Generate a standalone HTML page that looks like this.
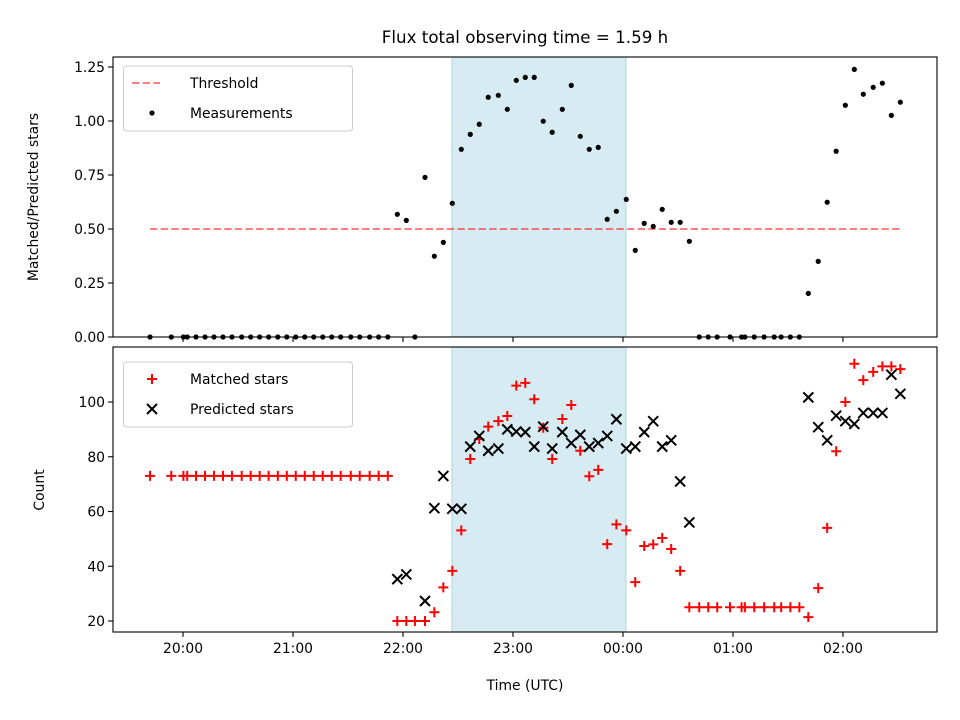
<!DOCTYPE html>
<html><head><meta charset="utf-8"><style>
html,body{margin:0;padding:0;background:#fff;}
svg{display:block;font-family:"DejaVu Sans","Liberation Sans",sans-serif;}
</style></head><body>
<svg id="fig" width="960" height="720" viewBox="0 0 960 720">
<rect width="960" height="720" fill="#fff"/>
<text x="525" y="43" text-anchor="middle" font-size="16.7">Flux total observing time = 1.59 h</text>
<g id="topPanel"></g>
<g id="botPanel"></g>
<text transform="translate(38,197) rotate(-90)" text-anchor="middle" font-size="13.9">Matched/Predicted stars</text>
<text transform="translate(44,490) rotate(-90)" text-anchor="middle" font-size="13.9">Count</text>
<text x="525" y="690" text-anchor="middle" font-size="13.9">Time (UTC)</text>
</svg>
<script>
// minutes since 20:00
const times = [-18,-6.4,0.2,2.3,7.1,12,16.9,21.8,26.7,32,36.9,41.8,46.7,51.7,56.6,61.5,66.4,71.3,76.2,81.1,86,91.5,96.4,101.8,106.7,111.7,
116.9,121.8,126.5,132,137.1,142,146.9,151.8,156.7,161.6,166.5,172,176.9,181.8,186.7,191.6,196.5,201.4,206.9,211.8,216.7,221.6,226.5,231.4,236.4,241.8,246.7,251.6,256.5,261.4,266.3,271.2,276.2,
281.6,286.5,291.4,298.4,304.7,306.5,311.6,317,322.5,326.3,331.3,336.2,
341.1,346.5,351.4,356.3,361.3,366.2,371.1,376.5,381.5,386.4,391.3];
const flux = [0,0,0,0,0,0,0,0,0,0,0,0,0,0,0,0,0,0,0,0,0,0,0,0,0,0,
0.568,0.540,0,0.739,0.374,0.438,0.619,0.869,0.938,0.985,1.110,1.119,1.054,1.188,1.202,1.202,0.999,0.948,1.054,1.165,0.929,0.869,0.878,0.545,0.582,0.637,0.401,0.526,0.512,0.591,0.531,0.531,0.443,
0,0,0,0,0,0,0,0,0,0,0,0,
0.202,0.350,0.624,0.860,1.073,1.239,1.124,1.156,1.175,1.026,1.087];
const matched = [73,73,73,73,73,73,73,73,73,73,73,73,73,73,73,73,73,73,73,73,73,73,73,73,73,73,
20,20,20,20,23.2,32.3,38.3,53.1,79.2,86.5,91,93,94.9,106,107,101,90.6,79.2,93.8,98.9,82.2,72.9,75.2,48.1,55.3,53.1,34.2,47.4,48,50.3,46.3,38.3,25,
25,25,25,25,25,25,25,25,25,25,25,25,
21.4,32,54,82,100,114,108,111,113,113,112];
const predicted = [null,null,null,null,null,null,null,null,null,null,null,null,null,null,null,null,null,null,null,null,null,null,null,null,null,null,
35.3,37,null,27.3,61.2,73,61,61,83.7,87.6,82.2,83,90,89.2,89,83.7,91,83,89,85,88,83.7,85,87.6,93.7,83,83.7,89,93,83.7,86,71,56,
null,null,null,null,null,null,null,null,null,null,null,null,
101.7,90.8,86,95,93,92,96,96,96,110,103];
const threshold = 0.5;
const shadeRange = [146.7, 241.6];
const xTickVals = [0,60,120,180,240,300,360];
const xTickLabels = ["20:00","21:00","22:00","23:00","00:00","01:00","02:00"];
const topTicks = [0,0.25,0.5,0.75,1.0,1.25];
const topTickLabels = ["0.00","0.25","0.50","0.75","1.00","1.25"];
const botTicks = [20,40,60,80,100];

const NS="http://www.w3.org/2000/svg";
const L=113,R=937;
const xDom=[-38.2,411.3];
const X=t=>L+(t-xDom[0])/(xDom[1]-xDom[0])*(R-L);
const TT=57,TB=337, BT=347,BB=632;
const Yt=v=>TB-(v-0)/(1.2963)*(TB-TT);
const Yb=v=>BB-(v-15.98)/(120.1-15.98)*(BB-BT);
function mk(tag,attrs,parent){const e=document.createElementNS(NS,tag);for(const k in attrs)e.setAttribute(k,attrs[k]);parent.appendChild(e);return e;}
const gTop=document.getElementById('topPanel'), gBot=document.getElementById('botPanel');

function panel(g,yT,yB,Y,ticks,labels,showX,name){
  let s=mk('rect',{x:X(shadeRange[0]),y:yT,width:X(shadeRange[1])-X(shadeRange[0]),height:yB-yT,fill:'#add8e6','fill-opacity':0.5,stroke:'#add8e6','stroke-width':1},g);
  
  
  xTickVals.forEach((v,i)=>{
    let t=mk('line',{x1:X(v),x2:X(v),y1:yB,y2:yB+4.9,stroke:'#000','stroke-width':1.1},g);
    
    
    if(showX){let tx=mk('text',{x:X(v),y:yB+21,'text-anchor':'middle','font-size':13.9},g);tx.textContent=xTickLabels[i];
      
      }
  });
  ticks.forEach((v,i)=>{
    let t=mk('line',{x1:L-4.9,x2:L,y1:Y(v),y2:Y(v),stroke:'#000','stroke-width':1.1},g);
    
    
    let tx=mk('text',{x:L-8,y:Y(v)+5,'text-anchor':'end','font-size':13.9},g);tx.textContent=labels[i];
    
    
  });
}
panel(gTop,TT,TB,Yt,topTicks,topTickLabels,false,'top');
panel(gBot,BT,BB,Yb,botTicks,botTicks.map(String),true,'bottom');

let th=mk('line',{x1:X(times[0]),x2:X(times[times.length-1]),y1:Yt(threshold),y2:Yt(threshold),stroke:'#ff0000','stroke-opacity':0.5,'stroke-width':2,'stroke-dasharray':'7.4,3.2'},gTop);


times.forEach((t,i)=>{
  let c=mk('circle',{cx:X(t),cy:Yt(flux[i]),r:2.6,fill:'#000'},gTop);
  
  
});
times.forEach((t,i)=>{
  const x=X(t),y=Yb(matched[i]),h=5;
  let p=mk('path',{d:`M${x-h},${y}H${x+h}M${x},${y-h}V${y+h}`,stroke:'#ff0000','stroke-width':2,fill:'none'},gBot);
  
  
});
times.forEach((t,i)=>{
  if(predicted[i]==null)return;
  const x=X(t),y=Yb(predicted[i]),h=5;
  let p=mk('path',{d:`M${x-h},${y-h}L${x+h},${y+h}M${x-h},${y+h}L${x+h},${y-h}`,stroke:'#000','stroke-width':2,fill:'none'},gBot);
  
  
});
let f1=mk('rect',{x:L,y:TT,width:R-L,height:TB-TT,fill:'none',stroke:'#000','stroke-width':1.1},gTop);


let f2=mk('rect',{x:L,y:BT,width:R-L,height:BB-BT,fill:'none',stroke:'#000','stroke-width':1.1},gBot);



function legend(g,y0,items,name){
  let b=mk('rect',{x:123.5,y:y0,width:229,height:65,rx:3,fill:'#fff','fill-opacity':0.8,stroke:'#ccc','stroke-width':1},g);
  
  
  items.forEach((it,i)=>{
    const cy=y0+17+i*30;
    const e=mk('g',{},g);
    
    
    it.draw(e,152,cy);
    const tx=mk('text',{x:190,y:cy+5,'font-size':13.9},e);tx.textContent=it.label;
  });
}
legend(gTop,66,[
  {label:'Threshold',draw:(e,x,y)=>mk('line',{x1:x-20,x2:x+8,y1:y,y2:y,stroke:'#ff0000','stroke-opacity':0.5,'stroke-width':2,'stroke-dasharray':'7.4,3.2'},e)},
  {label:'Measurements',draw:(e,x,y)=>mk('circle',{cx:x,cy:y,r:2.6,fill:'#000'},e)}
],'top-legend');
legend(gBot,362,[
  {label:'Matched stars',draw:(e,x,y)=>mk('path',{d:`M${x-5},${y}H${x+5}M${x},${y-5}V${y+5}`,stroke:'#ff0000','stroke-width':2},e)},
  {label:'Predicted stars',draw:(e,x,y)=>mk('path',{d:`M${x-5},${y-5}L${x+5},${y+5}M${x-5},${y+5}L${x+5},${y-5}`,stroke:'#000','stroke-width':2},e)}
],'bottom-legend');
</script>
</body></html>
